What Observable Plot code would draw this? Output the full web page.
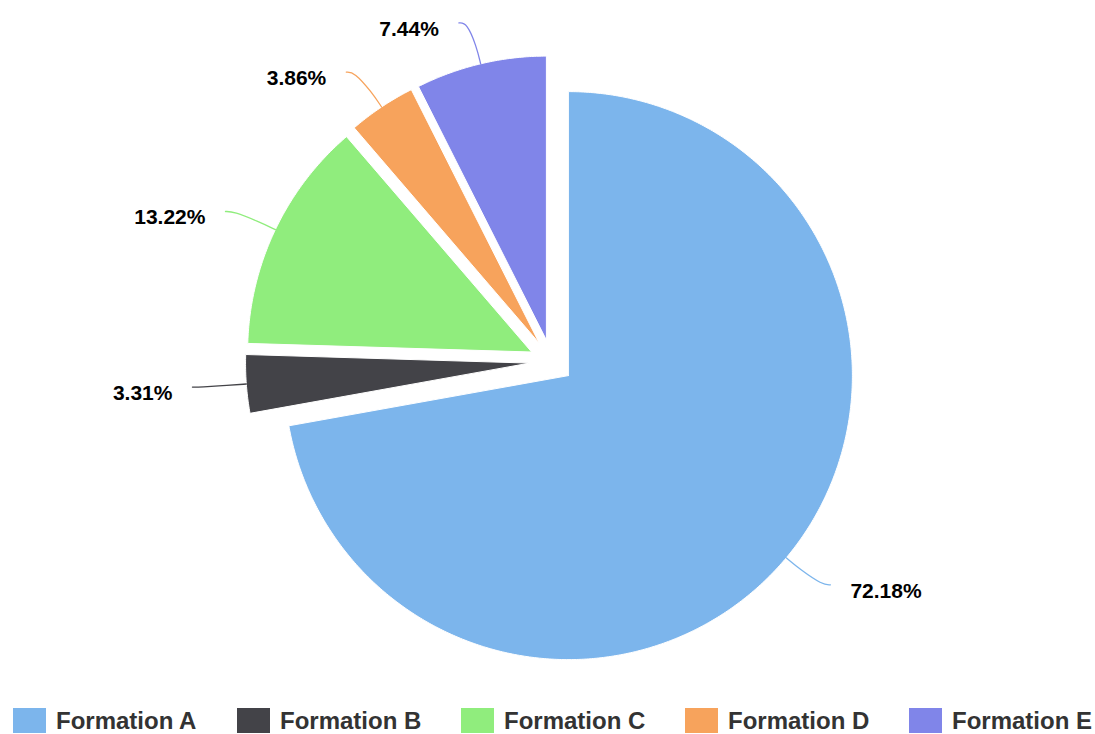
<!DOCTYPE html>
<html>
<head>
<meta charset="utf-8">
<script src="https://cdn.jsdelivr.net/npm/d3@7"></script>
<script src="https://cdn.jsdelivr.net/npm/@observablehq/plot@0.6"></script>
<style>
  html, body { margin: 0; padding: 0; background: #fff; overflow: hidden; }
  #chart svg { display: block; }
  .legend { display: flex; align-items: center; padding-left: 13px; margin-top: 8px; height: 25px; width: 1095px; box-sizing: border-box;
            font-family: "Liberation Sans", Arial, Helvetica, sans-serif; font-weight: bold; font-size: 24px; color: #333; white-space: nowrap; }
  .legend .item { display: flex; align-items: center; width: 224px; flex: none; }
  .legend .sw { width: 33px; height: 25px; margin-right: 10px; flex: none; }
</style>
</head>
<body>
<div id="chart"></div>
<script>
// ---- data ----
const categories = ["Formation A", "Formation B", "Formation C", "Formation D", "Formation E"];
const shares = [72.18, 3.31, 13.22, 3.86, 7.44];
const colors = ["#7cb5ec", "#434348", "#90ed7d", "#f7a35c", "#8085e9"];

// ---- layout ----
const W = 1095, H = 700;
const cx = 551, cy = 361, r = 284, sliceOffset = 22;
const labelR = 348, labelPush = 12, labelGap = 20;

const arcs = d3.pie().sort(null).value(d => d.value)(categories.map((name, i) => ({name, value: shares[i]})));
const pt = (ox, oy, rho, a) => [ox + rho * Math.sin(a), oy - rho * Math.cos(a)];

const polys = [], connectors = [], labels = [];
for (const a of arcs) {
  const name = a.data.name;
  const mid = (a.startAngle + a.endAngle) / 2;
  const [ax, ay] = pt(cx, cy, sliceOffset, mid);
  polys.push({name, x: ax, y: ay});
  const n = Math.max(2, Math.ceil((a.endAngle - a.startAngle) / (Math.PI / 360)));
  for (let k = 0; k <= n; k++) {
    const t = a.startAngle + (a.endAngle - a.startAngle) * k / n;
    const [x, y] = pt(ax, ay, r, t);
    polys.push({name, x, y});
  }
  polys.push({name, x: ax, y: ay});
  const right = Math.sin(mid) >= 0;
  const [ex, ey] = pt(ax, ay, r, mid);
  const [bx, by] = pt(ax, ay, r + 18, mid);
  let [lx, ly] = pt(cx, cy, labelR, mid);
  lx += right ? labelPush : -labelPush;
  connectors.push({name, x: ex, y: ey}, {name, x: bx, y: by}, {name, x: lx + (right ? -8 : 8), y: ly}, {name, x: lx, y: ly});
  labels.push({name, right, x: lx + (right ? labelGap : -labelGap), y: ly + 6, text: a.data.value.toFixed(2) + "%"});
}

const font = "Liberation Sans, Arial, sans-serif";
const plot = Plot.plot({
  width: W, height: H,
  margin: 0,
  x: {domain: [0, W], range: [0, W], axis: null},
  y: {domain: [0, H], range: [0, H], axis: null},
  color: {domain: categories, range: colors},
  marks: [
    Plot.line(polys, {x: "x", y: "y", z: "name", fill: "name", stroke: "#fff", strokeWidth: 1}),
    Plot.line(connectors, {x: "x", y: "y", z: "name", stroke: "name", strokeWidth: 1.3, curve: "basis"}),
    Plot.text(labels.filter(d => d.right), {x: "x", y: "y", text: "text", textAnchor: "start",
      fontSize: 21, fontWeight: "bold", fill: "#000", fontFamily: font}),
    Plot.text(labels.filter(d => !d.right), {x: "x", y: "y", text: "text", textAnchor: "end",
      fontSize: 21, fontWeight: "bold", fill: "#000", fontFamily: font})
  ]
});
document.getElementById("chart").appendChild(plot);

const legend = document.createElement("div");
legend.className = "legend";
categories.forEach((c, i) => {
  const item = document.createElement("div");
  item.className = "item";
  const sw = document.createElement("span");
  sw.className = "sw";
  sw.style.background = colors[i];
  const tx = document.createElement("span");
  tx.textContent = c;
  item.appendChild(sw); item.appendChild(tx);
  legend.appendChild(item);
});
document.body.appendChild(legend);
</script>
</body>
</html>
